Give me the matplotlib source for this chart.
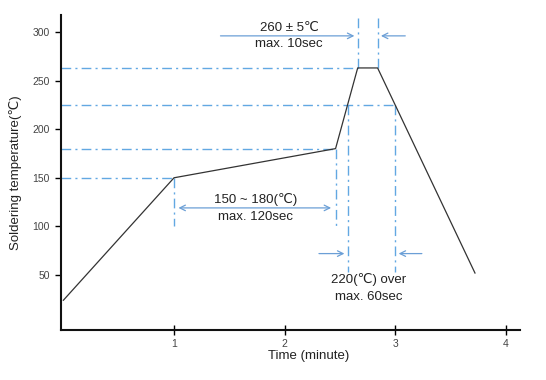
import matplotlib
matplotlib.use("Agg")
import matplotlib.pyplot as plt

plt.rcParams['font.family'] = ['Liberation Sans', 'DejaVu Sans']

# Reflow profile
profile_time = [0.0, 1.0, 2.46, 2.66, 2.84, 3.72]
profile_temp = [24, 150, 180, 263, 263, 52]

x_ticks = [1, 2, 3, 4]
y_ticks = [50, 100, 150, 200, 250, 300]

# horizontal guide lines: (level, end time)
h_levels = [150, 180, 225, 263]
h_ends = [1.0, 2.46, 3.0, 2.66]

# vertical guide lines: (time, y from, y to)
v_times = [1.0, 2.46, 2.57, 3.0, 2.66, 2.84]
v_from = [150, 180, 225, 225, 263, 263]
v_to = [100, 100, 53, 53, 318, 318]

blue = '#62a8e2'
arrow_c = '#6b9fd6'
txt_c = '#222222'

fig = plt.figure(figsize=(5.46, 3.8), dpi=100)
ax = fig.add_axes([0.112, 0.1316, 0.840, 0.829])

ax.plot(profile_time, profile_temp, color='#333333', lw=0.9, zorder=3)

dd = (0, (7, 3, 1.5, 3))
for lv, xe in zip(h_levels, h_ends):
    ax.plot([-0.02, xe], [lv, lv], color=blue, lw=1.0, ls=dd)
for t, a, b in zip(v_times, v_from, v_to):
    ax.plot([t, t], [a, b], color=blue, lw=1.0, ls=dd)

aprops = dict(arrowstyle='->', color=arrow_c, lw=0.9, shrinkA=0, shrinkB=0)
fs = 9.5
# 260 +/- 5
ax.annotate('', xy=(2.63, 296), xytext=(1.42, 296), arrowprops=aprops)
ax.annotate('', xy=(2.87, 296), xytext=(3.09, 296), arrowprops=aprops)
ax.text(2.04, 298, '260 ± 5℃', ha='center', va='bottom', fontsize=fs, color=txt_c)
ax.text(2.04, 294, 'max. 10sec', ha='center', va='top', fontsize=fs, color=txt_c)

# 150 ~ 180
ax.annotate('', xy=(2.42, 119), xytext=(1.04, 119),
            arrowprops=dict(arrowstyle='<->', color=arrow_c, lw=0.9, shrinkA=0, shrinkB=0))
ax.text(1.74, 121, '150 ~ 180(℃)', ha='center', va='bottom', fontsize=fs, color=txt_c)
ax.text(1.74, 116, 'max. 120sec', ha='center', va='top', fontsize=fs, color=txt_c)

# 220 over
ax.annotate('', xy=(2.54, 72), xytext=(2.31, 72), arrowprops=aprops)
ax.annotate('', xy=(3.03, 72), xytext=(3.24, 72), arrowprops=aprops)
ax.text(2.76, 45, '220(℃) over', ha='center', va='center', fontsize=fs, color=txt_c)
ax.text(2.76, 27, 'max. 60sec', ha='center', va='center', fontsize=fs, color=txt_c)

ax.set_xlim(-0.02, 4.125)
ax.set_ylim(-6.6, 317.5)
ax.set_xticks(x_ticks)
ax.set_yticks(y_ticks)
ax.tick_params(axis='x', direction='inout', length=7, width=1.0, labelsize=7.5,
               pad=3, labelcolor='#444444')
ax.tick_params(axis='y', direction='out', length=4, width=1.0, labelsize=7.5,
               pad=4, labelcolor='#444444')
for s in ['top', 'right']:
    ax.spines[s].set_visible(False)
for s in ['left', 'bottom']:
    ax.spines[s].set_linewidth(1.5)
    ax.spines[s].set_color('#111111')

ax.set_xlabel('Time (minute)', fontsize=fs, labelpad=1, x=0.54, color=txt_c)
ax.set_ylabel('Soldering temperature(℃)', fontsize=fs, labelpad=8, color=txt_c)

fig.savefig('out.png', dpi=100)
